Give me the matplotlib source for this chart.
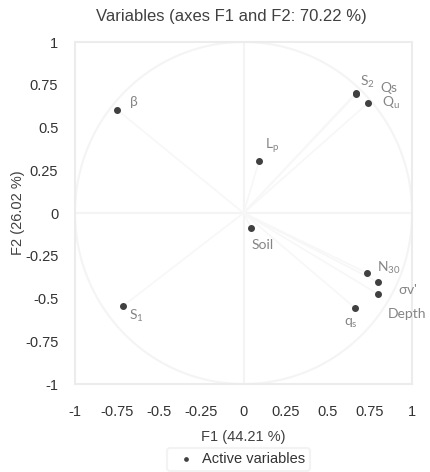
import numpy as np
import matplotlib.pyplot as plt

plt.rcParams['font.family'] = ['Liberation Sans', 'DejaVu Sans']
plt.rcParams['mathtext.default'] = 'regular'

# variable coordinates (F1, F2)
names = [r'$\beta$', 'S$_2$', 'Qs', 'Q$_u$', 'L$_p$', 'Soil', 'N$_{30}$',
         r"$\sigma$v'", 'Depth', 'q$_s$', 'S$_1$']
f1 = [-0.748, 0.665, 0.669, 0.738, 0.092, 0.045, 0.733, 0.798, 0.798, 0.662, -0.715]
f2 = [0.602, 0.700, 0.696, 0.643, 0.304, -0.088, -0.351, -0.404, -0.474, -0.556, -0.544]
# label offsets in points
offs = [(8, 6), (3, 8), (17, 4), (10, 0), (4, 11), (0, -12), (7, 4),
        (14, -5), (7, -14), (-8, -11), (4, -7)]

ticks = [-1, -0.75, -0.5, -0.25, 0, 0.25, 0.5, 0.75, 1]
tick_labels = ['-1', '-0.75', '-0.5', '-0.25', '0', '0.25', '0.5', '0.75', '1']

fig = plt.figure(figsize=(4.3, 4.72), dpi=100)
ax = fig.add_axes([0.1744, 0.1864, 0.784, 0.7246])

faint = '#f4f4f4'
t = np.linspace(0, 2 * np.pi, 400)
ax.plot(np.cos(t), np.sin(t), color=faint, lw=1.5, zorder=1)
ax.axhline(0, color=faint, lw=1.5, zorder=1)
ax.axvline(0, color=faint, lw=1.5, zorder=1)
for x, y in zip(f1, f2):
    ax.plot([0, x], [0, y], color='#f7f7f7', lw=1.2, zorder=1)

ax.scatter(f1, f2, s=16, color='#404040', zorder=3, label='Active variables')
for n, x, y, o in zip(names, f1, f2, offs):
    ax.annotate(n, (x, y), xytext=o, textcoords='offset points', ha='left', va='center',
                fontsize=10, color='#858585', family=['Lato', 'DejaVu Sans'])

ax.set_xlim(-1, 1)
ax.set_ylim(-1, 1)
ax.set_xticks(ticks)
ax.set_xticklabels(tick_labels)
ax.set_yticks(ticks)
ax.set_yticklabels(tick_labels)
ax.tick_params(length=0, labelsize=10.5, labelcolor='#333333')
ax.tick_params(axis='x', pad=15)
ax.tick_params(axis='y', pad=12)
for s in ax.spines.values():
    s.set_color('#ececec')
    s.set_linewidth(1.5)

fig.text(0.537, 0.965, 'Variables (axes F1 and F2: 70.22 %)', fontsize=12,
         color='#404040', ha='center', va='center')
ax.set_xlabel('F1 (44.21 %)', fontsize=10.5, color='#404040', labelpad=8)
ax.set_ylabel('F2 (26.02 %)', fontsize=10.5, color='#404040', labelpad=0)

leg = fig.legend(loc='center', bbox_to_anchor=(0.555, 0.027), frameon=True,
                 fontsize=10.5, handletextpad=0.1, markerscale=0.6, borderpad=0.3)
leg.get_frame().set_edgecolor('#f0f0f0')
leg.get_frame().set_linewidth(1.5)
for tx in leg.get_texts():
    tx.set_color('#333333')

fig.savefig('out.png', dpi=100)
